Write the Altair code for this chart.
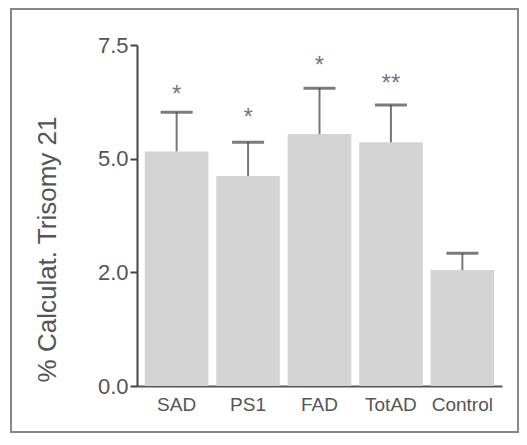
import altair as alt
import pandas as pd

groups = ["SAD", "PS1", "FAD", "TotAD", "Control"]
means = [5.16, 4.62, 5.54, 5.36, 2.55]
upper = [6.02, 5.36, 6.55, 6.18, 2.92]
stars = ["*", "*", "*", "**", ""]
star_y = [6.55, 6.04, 7.19, 6.79, 0.0]
y_ticks = [0.0, 2.5, 5.0, 7.5]

df = pd.DataFrame({"group": groups, "mean": means, "upper": upper,
                   "star": stars, "star_y": star_y})

FONT = "Liberation Sans"

x_enc = alt.X("group:N", sort=groups,
              scale=alt.Scale(paddingInner=0.11, paddingOuter=0.11),
              axis=alt.Axis(title=None, ticks=False, labelAngle=0, labelFontSize=19,
                            labelColor="#555", labelFont=FONT, labelPadding=9,
                            domainColor="#555", domainWidth=2))
y_scale = alt.Scale(domain=[0, 7.5], nice=False)

bars = alt.Chart(df).mark_bar(color="#d4d4d4").encode(
    x=x_enc,
    y=alt.Y("mean:Q", scale=y_scale,
            axis=alt.Axis(title="% Calculat. Trisomy 21", values=y_ticks,
                          labelExpr="datum.value == 2.5 ? '2.0' : format(datum.value, '.1f')",
                          grid=False, tickSize=7, tickWidth=2, tickColor="#444",
                          domainColor="#444", domainWidth=2, labelPadding=2,
                          labelFontSize=22, labelColor="#555", labelFont=FONT,
                          titleFontSize=26, titleFontWeight="normal", titleColor="#555",
                          titleFont=FONT, titleX=-82, titleY=204, titleAngle=-90,
                          titleBaseline="alphabetic", titleAlign="center")),
)

err = alt.Chart(df).mark_rule(color="#777", strokeWidth=2).encode(
    x=alt.X("group:N", sort=groups),
    y="mean:Q",
    y2="upper:Q",
)

caps = alt.Chart(df).mark_tick(color="#444", thickness=3, size=32).encode(
    x=alt.X("group:N", sort=groups),
    y="upper:Q",
)

star_text = alt.Chart(df).mark_text(color="#777", fontSize=24, font=FONT,
                                    baseline="alphabetic", dy=14).encode(
    x=alt.X("group:N", sort=groups),
    y="star_y:Q",
    text="star:N",
)

frame = alt.Chart(alt.Data(values=[{}])).mark_rect(
    fillOpacity=0, stroke="#888", strokeWidth=2).encode(
    x=alt.value(-126), x2=alt.value(381), y=alt.value(-36), y2=alt.value(387))

chart = alt.layer(frame, bars, err, caps, star_text).properties(
    width=365, height=341,
    autosize=alt.AutoSizeParams(type="none"),
    padding={"left": 129, "top": 37, "right": 17, "bottom": 47},
).configure_view(stroke=None)

chart.save("out.html", embed_options={"renderer": "svg", "actions": False})
